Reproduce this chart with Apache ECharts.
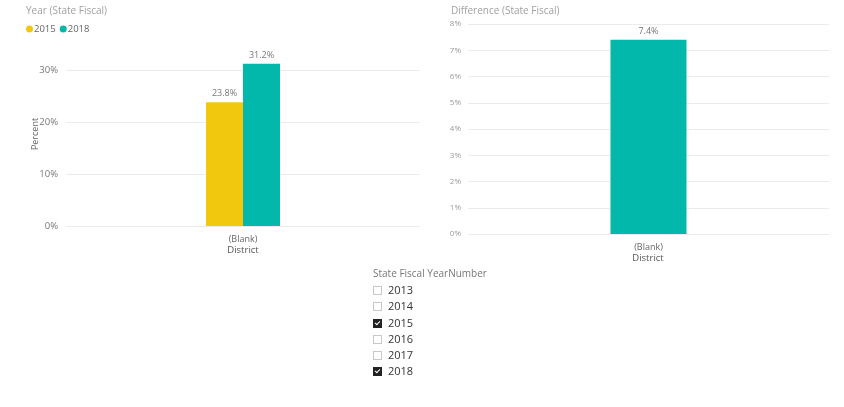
<!DOCTYPE html>
<html>
<head>
<meta charset="utf-8">
<script src="https://cdn.jsdelivr.net/npm/echarts@6/dist/echarts.min.js"></script>
<style>
html,body{margin:0;padding:0;background:#fff;}
#chart{position:absolute;left:0;top:0;width:844px;height:407px;}
#slicer{position:absolute;left:373px;top:266px;font-family:"Open Sans",sans-serif;}
#slicer .title{font-size:10px;color:#777;height:16px;line-height:14px;}
#slicer .item{height:16.3px;line-height:16px;font-size:11px;color:#333;position:relative;padding-left:15px;}
#slicer .box{position:absolute;left:0;top:4px;width:7px;height:7px;border:1px solid #c8c8c8;background:#fff;}
#slicer .box.on{background:#222;border-color:#222;}
#slicer .box.on:after{content:"";position:absolute;left:2px;top:0px;width:2px;height:4px;border:solid #fff;border-width:0 1.5px 1.5px 0;transform:rotate(45deg);}
</style>
</head>
<body>
<div id="chart"></div>
<div id="slicer"></div>
<script>
var categories = ['(Blank)'];
var seriesNames = ['2015', '2018'];
var values2015 = [23.8];
var values2018 = [31.2];
var diffValues = [7.4];
var yAxisTitle = 'Percent';
var xAxisTitle = 'District';
var slicerTitle = 'State Fiscal YearNumber';
var slicerYears = ['2013', '2014', '2015', '2016', '2017', '2018'];
var slicerChecked = [false, false, true, false, false, true];

var FONT = '"Open Sans", sans-serif';
var chart = echarts.init(document.getElementById('chart'), null, {renderer: 'canvas'});
var pct = function (v) { return v + '%'; };
var labelStyle = {show: true, position: 'top', distance: 4, color: '#777', fontSize: 9, fontFamily: FONT, formatter: function (p) { return p.value.toFixed(1) + '%'; }};
var option = {
  animation: false,
  title: [
    {text: 'Year (State Fiscal)', left: 21, top: 1, textStyle: {fontSize: 10, fontWeight: 'normal', color: '#a0a0a0', fontFamily: FONT}},
    {text: 'Difference (State Fiscal)', left: 446, top: 1, textStyle: {fontSize: 10, fontWeight: 'normal', color: '#a0a0a0', fontFamily: FONT}}
  ],
  legend: {
    data: seriesNames, left: 21, top: 19, icon: 'circle', itemWidth: 7, itemHeight: 7, itemGap: 4,
    textStyle: {fontSize: 9.5, color: '#666', fontFamily: FONT, padding: [0, 0, 0, -4]}
  },
  graphic: [
    {type: 'text', x: 35, y: 134, rotation: Math.PI / 2,
     style: {text: yAxisTitle, fill: '#666', font: '9px "Open Sans", sans-serif', align: 'center', verticalAlign: 'middle'}},
    {type: 'text', x: 648, y: 258,
     style: {text: xAxisTitle, fill: '#555', font: '9.5px "Open Sans", sans-serif', align: 'center', verticalAlign: 'middle'}}
  ],
  grid: [
    {left: 66, right: 424, top: 44, bottom: 181},
    {left: 468, right: 15, top: 24, bottom: 173}
  ],
  xAxis: [
    {type: 'category', gridIndex: 0, data: categories, axisLine: {show: false}, axisTick: {show: false},
     axisLabel: {color: '#666', fontSize: 9, lineHeight: 9, fontFamily: FONT, margin: 9},
     name: xAxisTitle, nameLocation: 'middle', nameGap: 20, nameTextStyle: {color: '#555', fontSize: 9.5, lineHeight: 9, fontFamily: FONT}},
    {type: 'category', gridIndex: 1, data: categories, axisLine: {show: false}, axisTick: {show: false},
     axisLabel: {color: '#666', fontSize: 9, lineHeight: 9, fontFamily: FONT, margin: 9}}
  ],
  yAxis: [
    {type: 'value', gridIndex: 0, min: 0, max: 35, interval: 10,
     axisLabel: {formatter: pct, color: '#777', fontSize: 9.5, fontFamily: FONT, margin: 8, showMaxLabel: false},
     splitLine: {lineStyle: {color: '#ebebeb'}, showMaxLine: false}},
    {type: 'value', gridIndex: 1, min: 0, max: 8, interval: 1,
     axisLabel: {formatter: pct, color: '#999', fontSize: 8, fontFamily: FONT, margin: 7},
     splitLine: {lineStyle: {color: '#ebebeb'}}}
  ],
  series: [
    {name: seriesNames[0], type: 'bar', xAxisIndex: 0, yAxisIndex: 0, data: values2015, barWidth: 37, barGap: '0%',
     itemStyle: {color: '#F2C80F'}, label: labelStyle},
    {name: seriesNames[1], type: 'bar', xAxisIndex: 0, yAxisIndex: 0, data: values2018, barWidth: 37, barGap: '0%',
     itemStyle: {color: '#01B8AA'}, label: labelStyle},
    {name: 'Difference', type: 'bar', xAxisIndex: 1, yAxisIndex: 1, data: diffValues, barWidth: 76,
     itemStyle: {color: '#01B8AA'}, label: labelStyle}
  ]
};
chart.setOption(option);

var sl = document.getElementById('slicer');
var html = '<div class="title">' + slicerTitle + '</div>';
for (var i = 0; i < slicerYears.length; i++) {
  html += '<div class="item"><span class="box' + (slicerChecked[i] ? ' on' : '') + '"></span>' + slicerYears[i] + '</div>';
}
sl.innerHTML = html;
</script>
</body>
</html>
